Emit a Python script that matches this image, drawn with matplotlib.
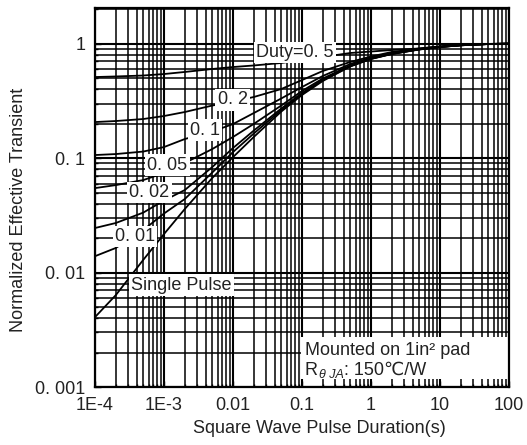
import numpy as np
import matplotlib
matplotlib.use("Agg")
import matplotlib.pyplot as plt
from matplotlib.patches import Rectangle
from matplotlib.ticker import LogLocator, NullFormatter, FixedLocator, FixedFormatter

plt.rcParams['font.family'] = ['Liberation Sans', 'DejaVu Sans']

# pulse duration (s)
pulse = [1e-4, 2e-4, 5e-4, 1e-3, 2e-3, 5e-3, 0.01, 0.02, 0.05, 0.1,
         0.2, 0.5, 1, 2, 5, 10, 20, 50, 100]

# normalized transient thermal impedance
single = [0.00408, 0.00635, 0.0129, 0.0217, 0.0359, 0.067, 0.102, 0.153, 0.255, 0.356,
          0.472, 0.632, 0.735, 0.812, 0.889, 0.935, 0.968, 0.993, 1.0]
duty_001 = [0.0139, 0.0164, 0.0235, 0.0328, 0.0439, 0.0748, 0.113, 0.164, 0.263, 0.363,
            0.479, 0.636, 0.737, 0.815, 0.891, 0.935, 0.968, 0.993, 1.0]
duty_002 = [0.0245, 0.0271, 0.0334, 0.0426, 0.0526, 0.0835, 0.1225, 0.174, 0.271, 0.371,
            0.484, 0.639, 0.740, 0.816, 0.893, 0.936, 0.968, 0.993, 1.0]
duty_005 = [0.0547, 0.0581, 0.0643, 0.074, 0.0906, 0.120, 0.153, 0.199, 0.288, 0.386,
            0.496, 0.645, 0.745, 0.820, 0.895, 0.937, 0.969, 0.993, 1.0]
duty_01 = [0.1064, 0.1085, 0.1141, 0.1249, 0.1468, 0.1707, 0.1985, 0.2476, 0.332, 0.418,
           0.522, 0.664, 0.757, 0.829, 0.898, 0.94, 0.970, 0.994, 1.0]
duty_02 = [0.2066, 0.2109, 0.2196, 0.2333, 0.2528, 0.288, 0.312, 0.342, 0.4015, 0.481,
           0.577, 0.692, 0.772, 0.846, 0.907, 0.945, 0.974, 0.995, 1.0]
duty_05 = [0.511, 0.517, 0.527, 0.543, 0.566, 0.601, 0.625, 0.645, 0.678, 0.720,
           0.765, 0.829, 0.854, 0.880, 0.908, 0.945, 0.974, 0.995, 1.0]

curves = [duty_05, duty_02, duty_01, duty_005, duty_002, duty_001, single]

# curve labels and where they sit (data coords)
curve_names = ["Duty=0. 5", "0. 2", "0. 1", "0. 05", "0. 02", "0. 01", "Single Pulse"]
name_x = [0.079, 0.00984, 0.00393, 0.001125, 0.000617, 0.00038, 0.001794]
name_y = [0.837, 0.322, 0.176, 0.087, 0.050, 0.0206, 0.00777]

xtick_vals = [1e-4, 1e-3, 0.01, 0.1, 1, 10, 100]
xtick_text = ["1E-4", "1E-3", "0.01", "0.1", "1", "10", "100"]
ytick_vals = [0.001, 0.01, 0.1, 1]
ytick_text = ["0. 001", "0. 01", "0. 1", "1"]

txt = "#222222"

fig = plt.figure(figsize=(5.27, 4.45), dpi=100)
ax = fig.add_axes([95 / 527, 1 - 387 / 445, 414 / 527, 379 / 445])

ax.set_xscale("log")
ax.set_yscale("log")
ax.set_xlim(1e-4, 100)
ax.set_ylim(1e-3, 2.05)

for c in curves:
    ax.plot(pulse, c, color="black", linewidth=1.3, zorder=2)

for name, x, y in zip(curve_names, name_x, name_y):
    ax.text(x, y, name, fontsize=13, color=txt, ha="center", va="center", zorder=4,
            bbox=dict(facecolor="white", edgecolor="none", pad=1.5))

# mounting note on a white block
ax.add_patch(Rectangle((0.497, 0.02), 0.5, 0.112, transform=ax.transAxes,
                       facecolor="white", edgecolor="none", zorder=3))
ax.text(0.507, 0.0844, "Mounted on 1in² pad", transform=ax.transAxes,
        fontsize=13, color=txt, ha="left", va="baseline", zorder=5)
r = ax.text(0.507, 0.022, "R", transform=ax.transAxes, fontsize=13, color=txt,
            ha="left", va="bottom", zorder=5)
sub = ax.annotate("θ JA", xy=(1, 0), xycoords=r, xytext=(1, -1.5),
                  textcoords="offset points", fontsize=9, color=txt,
                  ha="left", va="bottom", style="italic", zorder=5)
ax.annotate(": 150℃/W", xy=(1, 0), xycoords=(sub, r), xytext=(0, 0),
            textcoords="offset points", fontsize=13, color=txt,
            ha="left", va="bottom", zorder=5)

ax.xaxis.set_major_locator(FixedLocator(xtick_vals))
ax.xaxis.set_major_formatter(FixedFormatter(xtick_text))
ax.yaxis.set_major_locator(FixedLocator(ytick_vals))
ax.yaxis.set_major_formatter(FixedFormatter(ytick_text))
ax.xaxis.set_minor_locator(LogLocator(base=10, subs=np.arange(2, 10), numticks=20))
ax.yaxis.set_minor_locator(LogLocator(base=10, subs=np.arange(2, 10), numticks=20))
ax.xaxis.set_minor_formatter(NullFormatter())
ax.yaxis.set_minor_formatter(NullFormatter())

ax.set_axisbelow(True)
ax.grid(True, which="major", color="black", linewidth=1.5)
ax.grid(True, which="minor", color="black", linewidth=1.1)

ax.tick_params(which="both", direction="in", top=False, right=False,
               labelsize=13, labelcolor=txt)
ax.tick_params(which="major", length=4, width=1, pad=7)
ax.tick_params(which="minor", length=2.5, width=1)

for s in ax.spines.values():
    s.set_linewidth(1.6)
    s.set_zorder(5)

ax.set_xlabel("Square Wave Pulse Duration(s)", fontsize=13, color=txt)
ax.set_ylabel("Normalized Effective Transient", fontsize=13, color=txt)
ax.xaxis.set_label_coords(0.541, -0.087)
ax.yaxis.set_label_coords(-0.164, 0.467)

fig.savefig("out.png", dpi=100)
